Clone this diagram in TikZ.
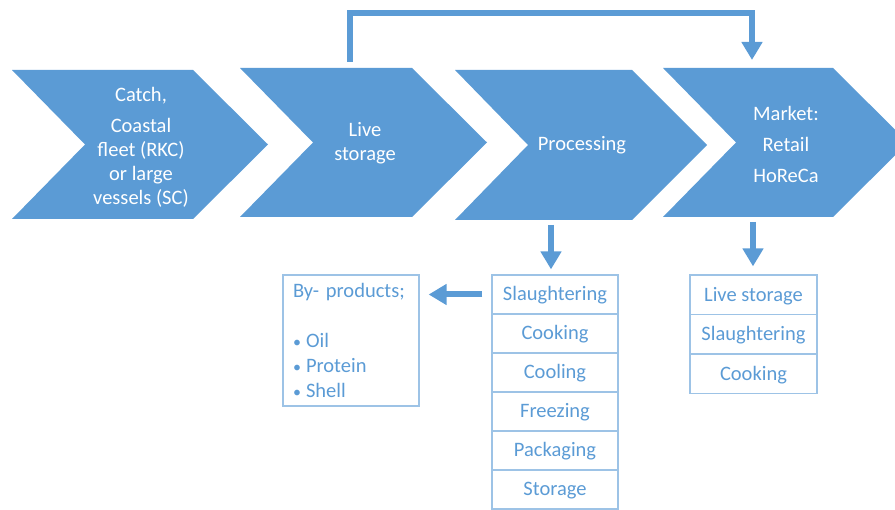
\documentclass[tikz,border=0pt]{standalone}
\usepackage{fontspec}
\setmainfont{Carlito}
\usetikzlibrary{arrows.meta}

\definecolor{chevblue}{HTML}{5B9BD5}
\definecolor{boxline}{HTML}{9DC3E6}
\definecolor{boxtext}{HTML}{5B9BD5}

\newcommand{\bul}{\makebox[13pt][l]{\fontsize{16}{16}\selectfont\textbullet}}

\tikzset{
    chevtext/.style={text=white, align=center, inner sep=0pt, font=\fontsize{20.5}{24}\selectfont},
    rowbox/.style={draw=boxline, line width=1.2pt, minimum width=126pt, minimum height=39pt,
        inner sep=0pt, text height=17pt, text depth=4pt, text=boxtext, font=\fontsize{20.5}{24}\selectfont},
    flow/.style={draw=chevblue, line width=6pt, -{Triangle[width=20pt,length=18pt]}},
}

\begin{document}
\begin{tikzpicture}[x=1pt,y=-1pt]
    \useasboundingbox (0,0) rectangle (895,510);
    \fill [chevblue] (12,70) -- (193,70) -- (268,144.5) -- (193,219) -- (12,219) -- (85,144.5) -- cycle;
    \fill [chevblue] (240,68) -- (412,68) -- (487,142.5) -- (412,217) -- (240,217) -- (313,142.5) -- cycle;
    \fill [chevblue] (455,70) -- (632,70) -- (707,145) -- (632,220) -- (455,220) -- (528,145) -- cycle;
    \fill [chevblue] (663,68) -- (833,68) -- (908,142.5) -- (833,217) -- (663,217) -- (736,142.5) -- cycle;
    \node [chevtext] (catch) at (141,147) {Catch,\\[7pt]Coastal\\fleet (RKC)\\or large\\vessels (SC)};
    \node [chevtext] (live) at (365,143) {Live\\storage};
    \node [chevtext] (proc) at (582,145) {Processing};
    \node [chevtext] (market) at (786,144) {Market:\\[7pt]Retail\\[7pt]HoReCa};
    \coordinate (livetop) at (350,62);
    \coordinate (mkttop) at (752,67);
    \coordinate (procbot) at (551,225);
    \coordinate (mktbot) at (753,222);
    \node [rowbox] (slaughter) at (555,294.5) {Slaughtering};
    \node [rowbox] (cook) at (555,333.5) {Cooking};
    \node [rowbox] (cool) at (555,372.5) {Cooling};
    \node [rowbox] (freeze) at (555,411.5) {Freezing};
    \node [rowbox] (pack) at (555,450.5) {Packaging};
    \node [rowbox] (store) at (555,489.5) {Storage};
    \node [rowbox, minimum width=127pt, minimum height=39.5pt] (livest) at (753.5,294.75) {Live storage};
    \node [rowbox, minimum width=127pt, minimum height=39.5pt] (mktslaughter) at (753.5,334.25) {Slaughtering};
    \node [rowbox, minimum width=127pt, minimum height=39.5pt] (mktcook) at (753.5,373.75) {Cooking};
    \node [rowbox, minimum height=131pt, text width=116pt, inner xsep=10pt, align=left,
        text height=, text depth=, font=\fontsize{20.5}{25}\selectfont] (byprod) at (351,340.5)
        {By- products;\\[25pt]\bul Oil\\\bul Protein\\\bul Shell};
    \draw [flow, shorten >=7pt] (livetop) -- ++(0,-49) -| (mkttop);
    \draw [flow, shorten >=5pt] (procbot) -- (procbot |- slaughter.north);
    \draw [flow, shorten >=8pt] (mktbot) -- (mktbot |- livest.north);
    \draw [flow, shorten <=9pt, shorten >=9pt] (slaughter.west) -- (slaughter.west -| byprod.east);
\end{tikzpicture}
\end{document}
